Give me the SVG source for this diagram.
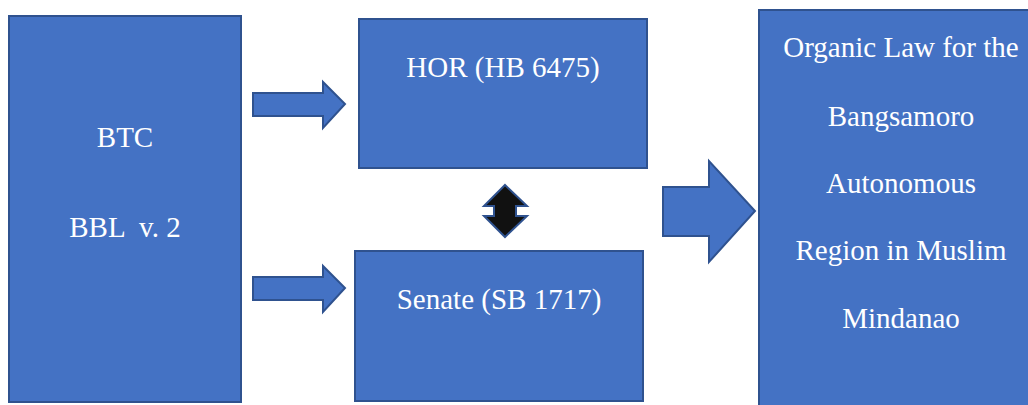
<svg xmlns="http://www.w3.org/2000/svg" width="1028" height="405" viewBox="0 0 1028 405">
<style>
.box{fill:#4472C4;stroke:#2F528F;stroke-width:2}
.arr{fill:#4472C4;stroke:#2F528F;stroke-width:2;stroke-linejoin:miter}
.dbl{fill:#111111;stroke:#2F528F;stroke-width:2}
text{font-family:"Liberation Serif","Times New Roman",serif;font-size:29px;fill:#FFFFFF;text-anchor:middle}
</style>
<rect width="1028" height="405" fill="#FFFFFF"/>
<g id="btc">
<rect class="box" x="9" y="16" width="232" height="386"/>
<text x="125" y="147">BTC</text>
<text x="125" y="237" xml:space="preserve">BBL  v. 2</text>
</g>
<g id="hor">
<rect class="box" x="359" y="19" width="288" height="149"/>
<text x="503" y="77">HOR (HB 6475)</text>
</g>
<g id="senate">
<rect class="box" x="355" y="251" width="288" height="150"/>
<text x="499" y="309">Senate (SB 1717)</text>
</g>
<g id="organic">
<rect class="box" x="759" y="10" width="284" height="420"/>
<text x="901" y="57">Organic Law for the</text>
<text x="901" y="126">Bangsamoro</text>
<text x="901" y="193">Autonomous</text>
<text x="901" y="260">Region in Muslim</text>
<text x="901" y="328">Mindanao</text>
</g>
<g id="connectors">
<polygon class="arr" points="253,93 323,93 323,82 345,104 323,128 323,116 253,116"/>
<polygon class="arr" points="253,277 323,277 323,266 345,288 323,312 323,300 253,300"/>
<polygon class="dbl" points="505,185 527,206 516,206 516,216 527,216 505,237 484,216 494,216 494,206 484,206"/>
<polygon class="arr" points="663,187 709,187 709,161 755,211 709,262 709,236 663,236"/>
</g>
</svg>
